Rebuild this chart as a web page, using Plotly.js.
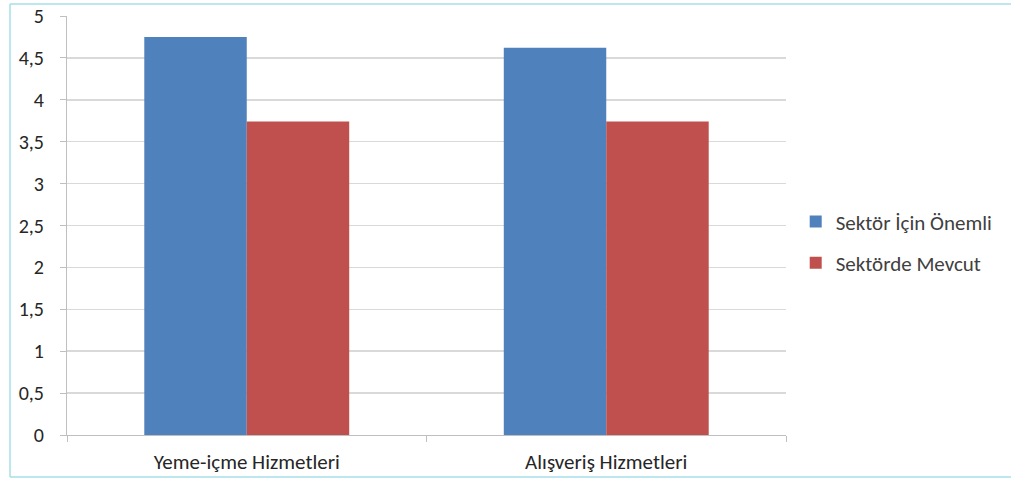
<!DOCTYPE html>
<html>
<head>
<meta charset="utf-8">
<script src="https://cdn.plot.ly/plotly-3.0.1.min.js"></script>
<style>html,body{margin:0;padding:0;background:#fff;}#chart{width:1011px;height:479px;}</style>
</head>
<body>
<div id="chart"></div>
<script>
const categories = ["Yeme-içme Hizmetleri", "Alışveriş Hizmetleri"];
const seriesNames = ["Sektör İçin Önemli", "Sektörde Mevcut"];
const onemli = [4.75, 4.62];
const mevcut = [3.74, 3.74];
const yTickVals = [0, 0.5, 1, 1.5, 2, 2.5, 3, 3.5, 4, 4.5, 5];
const yTickText = ["0", "0,5", "1", "1,5", "2", "2,5", "3", "3,5", "4", "4,5", "5"];

const font = "Carlito, Calibri, 'Open Sans', sans-serif";
const data = [
  {type: "bar", x: categories, y: onemli, name: seriesNames[0], marker: {color: "#4f81bd"}, legendgroup: "a"},
  {type: "bar", x: categories, y: mevcut, name: seriesNames[1], marker: {color: "#c0504d"}, legendgroup: "b"}
];
const bl = -57/719, bt = 1 + 12/419, bb = -42/419;
const borderLine = {color: "#a6dfe9", width: 1.5};
const layout = {
  width: 1011, height: 479,
  margin: {l: 67, r: 225, t: 16, b: 44},
  paper_bgcolor: "#fff", plot_bgcolor: "#fff",
  font: {family: font, size: 20, color: "#404040"},
  bargap: 0.43, bargroupgap: 0,
  showlegend: true,
  legend: {x: 0.0135 + 1, y: 0.46, yanchor: "middle", xanchor: "left", font: {size: 21, color: "#404040"}, tracegroupgap: 11, bgcolor: "rgba(0,0,0,0)"},
  xaxis: {
    showgrid: false, showline: true, linecolor: "#bfbfbf", linewidth: 1,
    ticks: "outside", tickson: "boundaries", ticklen: 6, tickcolor: "#bfbfbf",
    tickfont: {size: 21, color: "#262626"}, fixedrange: true, ticklabelstandoff: 8
  },
  yaxis: {
    range: [0, 5], tickvals: yTickVals, ticktext: yTickText,
    showgrid: true, gridcolor: "#d9d9d9", gridwidth: 1.5,
    showline: true, linecolor: "#bfbfbf", linewidth: 1,
    ticks: "outside", ticklen: 6, tickcolor: "#bfbfbf",
    tickfont: {size: 20, color: "#262626"}, zeroline: false, ticklabelstandoff: 12
  },
  shapes: [
    {type: "line", xref: "paper", yref: "paper", x0: bl, x1: 1.4, y0: bt, y1: bt, line: borderLine},
    {type: "line", xref: "paper", yref: "paper", x0: bl, x1: 1.4, y0: bb, y1: bb, line: borderLine},
    {type: "line", xref: "paper", yref: "paper", x0: bl, x1: bl, y0: bb, y1: bt, line: borderLine}
  ]
};
Plotly.newPlot("chart", data, layout, {displayModeBar: false, staticPlot: true});
</script>
</body>
</html>
